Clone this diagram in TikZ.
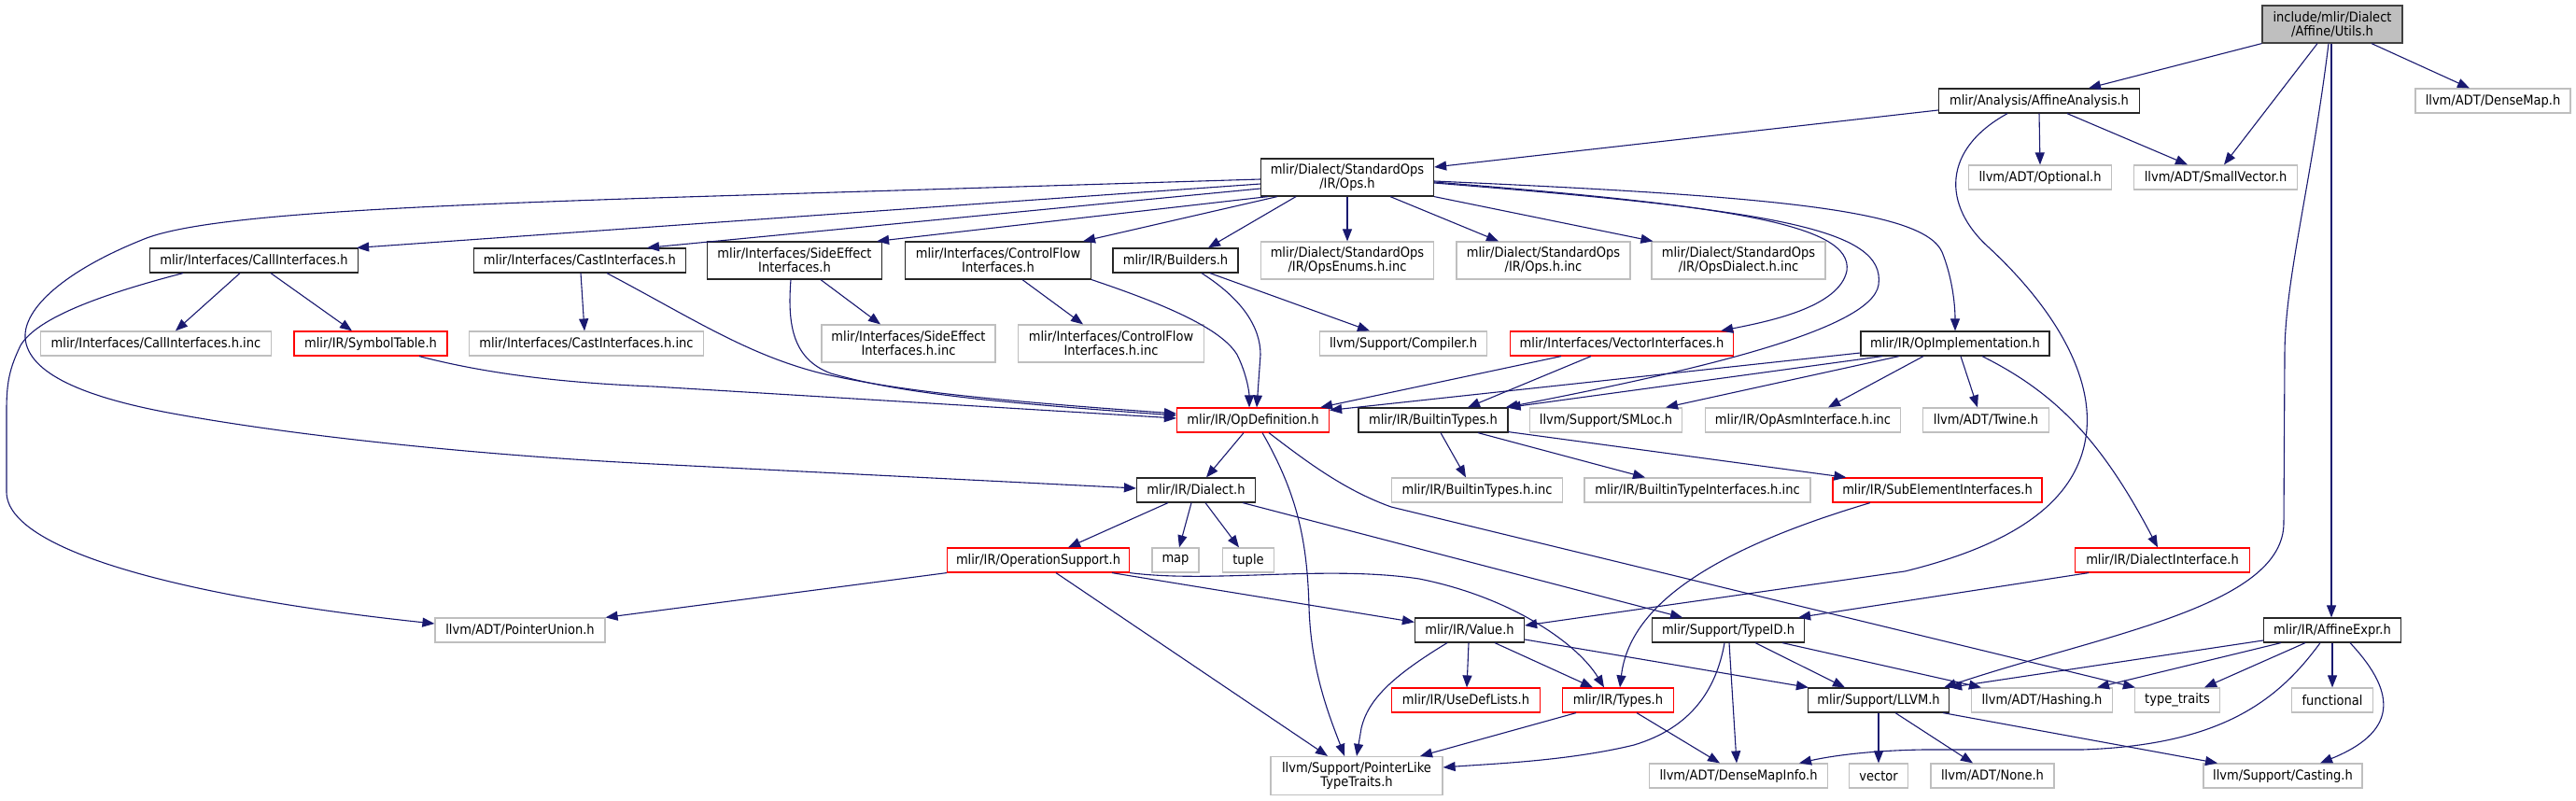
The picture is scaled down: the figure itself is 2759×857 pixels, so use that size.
\documentclass[tikz,border=0pt]{standalone}
\usepackage{fontspec}
\setmainfont{DejaVu Sans}[FakeStretch=0.9]
\usetikzlibrary{arrows.meta}
\definecolor{edgec}{HTML}{191970}
\definecolor{gbord}{HTML}{BFBFBF}
\definecolor{rbord}{HTML}{FF0000}
\definecolor{rootfill}{HTML}{BFBFBF}
\newcommand\nodefont{\fontsize{14.5}{15}\selectfont}
\tikzset{
  box/.style={draw, line width=1.2pt, inner sep=0pt, minimum height=26pt, align=center, font=\nodefont, text=black, fill=white},
  doc/.style={box, draw=black!85},
  ext/.style={box, draw=gbord},
  trunc/.style={box, draw=rbord},
  root/.style={box, draw=black!75, fill=rootfill},
  two/.style={minimum height=40pt},
  dep/.style={draw=edgec, line width=1.1pt, -{Triangle[length=13pt,width=10pt]}},
}
\begin{document}
\begin{tikzpicture}[x=1pt,y=-1pt]
\useasboundingbox[fill=white] (0,0) rectangle (2759,857);
% row 0
\node[root,two,minimum width=150] (top) at (2498,26) {include/mlir/Dialect\\/Affine/Utils.h};
% row 1
\node[doc,minimum width=215] (aa) at (2184,108) {mlir/Analysis/AffineAnalysis.h};
\node[ext,minimum width=166] (dmap) at (2670,108) {llvm/ADT/DenseMap.h};
% row 2
\node[doc,two,minimum width=185] (ops) at (1443,190) {mlir/Dialect/StandardOps\\/IR/Ops.h};
\node[ext,minimum width=153] (opt) at (2185,190) {llvm/ADT/Optional.h};
\node[ext,minimum width=175] (sv) at (2373,190) {llvm/ADT/SmallVector.h};
% row 3
\node[doc,minimum width=223] (call) at (272,279) {mlir/Interfaces/CallInterfaces.h};
\node[doc,minimum width=227] (cast) at (621,279) {mlir/Interfaces/CastInterfaces.h};
\node[doc,two,minimum width=187] (side) at (851,279) {mlir/Interfaces/SideEffect\\Interfaces.h};
\node[doc,two,minimum width=199] (cf) at (1069,279) {mlir/Interfaces/ControlFlow\\Interfaces.h};
\node[doc,minimum width=134] (build) at (1259,279) {mlir/IR/Builders.h};
\node[ext,two,minimum width=185] (enums) at (1443,279) {mlir/Dialect/StandardOps\\/IR/OpsEnums.h.inc};
\node[ext,two,minimum width=186] (opsinc) at (1653,279) {mlir/Dialect/StandardOps\\/IR/Ops.h.inc};
\node[ext,two,minimum width=186] (dialinc) at (1862,279) {mlir/Dialect/StandardOps\\/IR/OpsDialect.h.inc};
% row 4
\node[ext,minimum width=247] (callinc) at (167,368) {mlir/Interfaces/CallInterfaces.h.inc};
\node[trunc,minimum width=164] (sym) at (397,368) {mlir/IR/SymbolTable.h};
\node[ext,minimum width=251] (castinc) at (628,368) {mlir/Interfaces/CastInterfaces.h.inc};
\node[ext,two,minimum width=186] (sideinc) at (973,368) {mlir/Interfaces/SideEffect\\Interfaces.h.inc};
\node[ext,two,minimum width=199] (cfinc) at (1190,368) {mlir/Interfaces/ControlFlow\\Interfaces.h.inc};
\node[ext,minimum width=179] (comp) at (1503,368) {llvm/Support/Compiler.h};
\node[trunc,minimum width=239] (vec) at (1737,368) {mlir/Interfaces/VectorInterfaces.h};
\node[doc,minimum width=202] (opimpl) at (2094,368) {mlir/IR/OpImplementation.h};
% row 5
\node[trunc,minimum width=163] (opdef) at (1342,450) {mlir/IR/OpDefinition.h};
\node[doc,minimum width=160] (bt) at (1535,450) {mlir/IR/BuiltinTypes.h};
\node[ext,minimum width=163] (smloc) at (1720,450) {llvm/Support/SMLoc.h};
\node[ext,minimum width=209] (opasm) at (1931,450) {mlir/IR/OpAsmInterface.h.inc};
\node[ext,minimum width=135] (twine) at (2127,450) {llvm/ADT/Twine.h};
% row 6
\node[doc,minimum width=127] (dialect) at (1281,525) {mlir/IR/Dialect.h};
\node[ext,minimum width=183] (btinc) at (1582,525) {mlir/IR/BuiltinTypes.h.inc};
\node[ext,minimum width=242] (btiinc) at (1818,525) {mlir/IR/BuiltinTypeInterfaces.h.inc};
\node[trunc,minimum width=224] (subel) at (2075,525) {mlir/IR/SubElementInterfaces.h};
% row 7
\node[trunc,minimum width=195] (opsup) at (1112,600) {mlir/IR/OperationSupport.h};
\node[ext,minimum width=50] (map) at (1259,600) {map};
\node[ext,minimum width=55] (tuple) at (1337,600) {tuple};
\node[trunc,minimum width=187] (dialint) at (2316,600) {mlir/IR/DialectInterface.h};
% row 8
\node[ext,minimum width=182] (punion) at (557,675) {llvm/ADT/PointerUnion.h};
\node[doc,minimum width=117] (value) at (1574,675) {mlir/IR/Value.h};
\node[doc,minimum width=163] (typeid) at (1851,675) {mlir/Support/TypeID.h};
\node[doc,minimum width=147] (affexpr) at (2498,675) {mlir/IR/AffineExpr.h};
% row 9
\node[trunc,minimum width=159] (usedef) at (1570,750) {mlir/IR/UseDefLists.h};
\node[trunc,minimum width=119] (types) at (1733,750) {mlir/IR/Types.h};
\node[doc,minimum width=151] (llvm) at (2012,750) {mlir/Support/LLVM.h};
\node[ext,minimum width=151] (hashing) at (2187,750) {llvm/ADT/Hashing.h};
\node[ext,minimum width=91] (tt) at (2332,750) {type\_traits};
\node[ext,minimum width=87] (func) at (2498,750) {functional};
% row 10
\node[ext,minimum width=184,minimum height=41] (plt) at (1453,831) {llvm/Support/PointerLike\\TypeTraits.h};
\node[ext,minimum width=191] (dmi) at (1862,831) {llvm/ADT/DenseMapInfo.h};
\node[ext,minimum width=63] (vector) at (2012,831) {vector};
\node[ext,minimum width=132] (none) at (2134,831) {llvm/ADT/None.h};
\node[ext,minimum width=170] (casting) at (2445,831) {llvm/Support/Casting.h};

% ---- edges from top
\draw[dep] (top.south west) -- ([xshift=53]aa.north);
\draw[dep] ([xshift=-16]top.south) -- ([xshift=9]sv.north);
\draw[dep] ([xshift=42]top.south) -- ([xshift=-25]dmap.north);
\draw[dep] ([xshift=-1]top.south) -- ([xshift=-1]affexpr.north);
\draw[dep] ([xshift=-4]top.south) .. controls (2475,200) and (2447,300) .. (2447,380) -- (2446,560) .. controls (2446,650) and (2250,680) .. ([xshift=-6]llvm.north east);
% ---- AffineAnalysis
\draw[dep] ([yshift=-10]aa.west) -- ([yshift=11]ops.east);
\draw[dep] (aa.south) -- (opt.north);
\draw[dep] ([xshift=30]aa.south) -- ([xshift=-30]sv.north);
\draw[dep] ([xshift=-34]aa.south) .. controls (2080,160) and (2080,220) .. (2130,265) .. controls (2200,330) and (2240,400) .. (2235,460) .. controls (2228,540) and (2150,585) .. (2040,612) -- ([yshift=5]value.east);
% ---- Ops.h
\draw[dep] ([yshift=-7]ops.west) -- ([xshift=-2]call.north east);
\draw[dep] ([yshift=-12]ops.west) -- ([xshift=72]cast.north);
\draw[dep] ([xshift=-85]ops.south) -- ([xshift=-6]side.north east);
\draw[dep] ([xshift=-75]ops.south) -- ([xshift=91]cf.north);
\draw[dep] ([xshift=-55]ops.south) -- ([xshift=35]build.north);
\draw[dep] (ops.south) -- (enums.north);
\draw[dep] ([xshift=46]ops.south) -- ([xshift=-48]opsinc.north);
\draw[dep] (ops.south east) -- ([xshift=2]dialinc.north west);
\draw[dep] ([yshift=-5]ops.east) .. controls (1850,220) and (1985,240) .. (1978,290) .. controls (1970,330) and (1890,345) .. ([xshift=-14]vec.north east);
\draw[dep] ([yshift=-6]ops.east) .. controls (1900,225) and (2020,245) .. (2012,305) .. controls (2005,355) and (1800,400) .. ([xshift=-3]bt.north east);
\draw[dep] ([yshift=-4]ops.east) .. controls (1900,210) and (2060,225) .. (2080,270) .. controls (2092,300) and (2094,330) .. (opimpl.north);
\draw[dep] ([yshift=-2]ops.west) -- (700,212) .. controls (400,222) and (210,232) .. (152,257) .. controls (70,290) and (25,330) .. (27,362) .. controls (30,400) and (90,425) .. (180,442) .. controls (320,468) and (520,488) .. (700,497) -- ([yshift=2]dialect.west);
% ---- CallInterfaces
\draw[dep] ([xshift=-15]call.south) -- ([xshift=21]callinc.north);
\draw[dep] ([xshift=18]call.south) -- ([xshift=-20]sym.north);
\draw[dep] ([xshift=-76]call.south) .. controls (110,315) and (40,340) .. (22,370) .. controls (10,395) and (7,410) .. (7,440) -- (7,527) .. controls (7,590) and (200,640) .. ([yshift=7]punion.west);
% ---- SymbolTable, Cast, SideEffect, ControlFlow, Builders
\draw[dep] ([xshift=52]sym.south) .. controls (520,400) and (600,410) .. (700,414) -- ([yshift=2]opdef.west);
\draw[dep] ([xshift=1]cast.south) -- ([xshift=-2]castinc.north);
\draw[dep] ([xshift=29]cast.south) .. controls (740,340) and (800,380) .. (880,400) .. controls (960,418) and (1050,428) .. ([yshift=7]opdef.west);
\draw[dep] ([xshift=28]side.south) -- ([xshift=-30]sideinc.north);
\draw[dep] ([xshift=-4]side.south) .. controls (843,350) and (850,385) .. (890,400) .. controls (960,420) and (1050,430) .. ([yshift=5]opdef.west);
\draw[dep] ([xshift=26]cf.south) -- ([xshift=-30]cfinc.north);
\draw[dep] (cf.south east) .. controls (1260,330) and (1310,355) .. (1325,380) .. controls (1335,400) and (1338,420) .. ([xshift=-4]opdef.north);
\draw[dep] ([xshift=28]build.south) .. controls (1330,320) and (1350,350) .. (1350,380) -- ([xshift=4]opdef.north);
\draw[dep] ([xshift=37]build.south) -- ([xshift=-36]comp.north);
% ---- VectorInterfaces
\draw[dep] ([xshift=-65]vec.south) -- ([xshift=-10]opdef.north east);
\draw[dep] ([xshift=-33]vec.south) -- ([xshift=37]bt.north);
% ---- OpImplementation
\draw[dep] ([yshift=-10]opimpl.west) -- ([yshift=-3]opdef.north east);
\draw[dep] ([xshift=-78]opimpl.south) -- (bt.north east);
\draw[dep] ([xshift=-60]opimpl.south) -- ([xshift=64]smloc.north);
\draw[dep] ([xshift=-34]opimpl.south) -- ([xshift=27]opasm.north);
\draw[dep] ([xshift=6]opimpl.south) -- ([xshift=-9]twine.north);
\draw[dep] ([xshift=29]opimpl.south) .. controls (2200,420) and (2250,470) .. ([xshift=-5]dialint.north);
% ---- OpDefinition
\draw[dep] ([xshift=-10]opdef.south) -- ([xshift=11]dialect.north);
\draw[dep] ([xshift=10]opdef.south) .. controls (1390,530) and (1400,580) .. (1402,650) .. controls (1404,720) and (1425,770) .. ([xshift=-13]plt.north);
\draw[dep] ([xshift=17]opdef.south) .. controls (1400,495) and (1440,525) .. (1490,543) -- ([xshift=1]tt.north west);
% ---- BuiltinTypes
\draw[dep] ([xshift=8]bt.south) -- ([xshift=-12]btinc.north);
\draw[dep] ([xshift=48]bt.south) -- ([xshift=-56]btiinc.north);
\draw[dep] ([yshift=1]bt.south east) -- ([xshift=15]subel.north west);
% ---- Dialect
\draw[dep] ([xshift=-30]dialect.south) -- ([xshift=32]opsup.north);
\draw[dep] ([xshift=-5]dialect.south) -- ([xshift=4]map.north);
\draw[dep] ([xshift=10]dialect.south) -- ([xshift=-10]tuple.north);
\draw[dep] ([xshift=-14]dialect.south east) -- ([xshift=-49]typeid.north);
% ---- OperationSupport
\draw[dep] (opsup.south west) -- (punion.north east);
\draw[dep] ([xshift=19]opsup.south) -- ([xshift=-31]plt.north);
\draw[dep] ([xshift=79]opsup.south) -- ([yshift=-5]value.north west);
\draw[dep] (opsup.south east) .. controls (1300,625) and (1420,605) .. (1520,620) .. controls (1620,640) and (1690,690) .. ([xshift=-15]types.north);
% ---- Value
\draw[dep] ([xshift=-24]value.south) .. controls (1490,725) and (1465,750) .. (1458,780) -- (plt.north);
\draw[dep] ([xshift=-1]value.south) -- ([xshift=1]usedef.north);
\draw[dep] ([xshift=27]value.south) -- ([xshift=-27]types.north);
\draw[dep] ([yshift=-10]value.east) -- ([xshift=1]llvm.north west);
% ---- Types
\draw[dep] ([xshift=-45]types.south) -- ([xshift=68]plt.north);
\draw[dep] ([xshift=20]types.south) -- ([xshift=-20]dmi.north);
% ---- TypeID
\draw[dep] ([xshift=-4]typeid.south) .. controls (1838,740) and (1810,780) .. (1750,798) .. controls (1680,815) and (1600,818) .. ([yshift=9]plt.east);
\draw[dep] ([xshift=1]typeid.south) -- ([xshift=-2]dmi.north);
\draw[dep] ([xshift=29]typeid.south) -- ([xshift=-36]llvm.north);
\draw[dep] ([xshift=58]typeid.south) -- ([xshift=11]hashing.north west);
% ---- SubElementInterfaces, DialectInterface
\draw[dep] ([xshift=-72]subel.south) .. controls (1830,590) and (1745,650) .. ([xshift=2]types.north);
\draw[dep] ([xshift=-79]dialint.south) -- ([xshift=-7]typeid.north east);
% ---- LLVM
\draw[dep] (llvm.south) -- (vector.north);
\draw[dep] ([xshift=18]llvm.south) -- ([xshift=-21]none.north);
\draw[dep] ([xshift=-7]llvm.south east) -- ([xshift=-70]casting.north);
% ---- AffineExpr
\draw[dep] ([yshift=-11]affexpr.west) -- (llvm.north east);
\draw[dep] ([xshift=-55]affexpr.south) -- ([xshift=59]hashing.north);
\draw[dep] ([xshift=-29]affexpr.south) -- ([xshift=29]tt.north);
\draw[dep] (affexpr.south) -- (func.north);
\draw[dep] ([xshift=-13]affexpr.south) .. controls (2440,750) and (2380,798) .. (2230,803) -- (2060,803) .. controls (2000,804) and (1960,810) .. ([xshift=65]dmi.north);
\draw[dep] ([xshift=19]affexpr.south) .. controls (2570,745) and (2565,785) .. ([xshift=40]casting.north);
\end{tikzpicture}
\end{document}
